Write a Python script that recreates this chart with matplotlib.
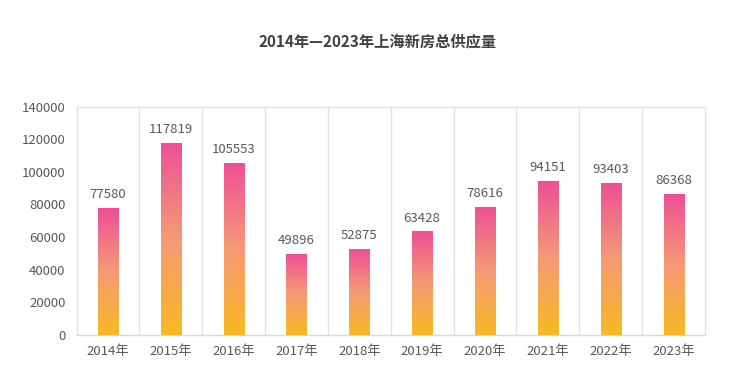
import matplotlib
matplotlib.use("Agg")
import matplotlib.pyplot as plt
import numpy as np
from matplotlib.colors import LinearSegmentedColormap

plt.rcParams['font.family'] = ['Noto Sans CJK SC', 'DejaVu Sans']

years = ["2014年", "2015年", "2016年", "2017年", "2018年", "2019年", "2020年", "2021年", "2022年", "2023年"]
supply = [77580, 117819, 105553, 49896, 52875, 63428, 78616, 94151, 93403, 86368]
title = "2014年—2023年上海新房总供应量"
yticks = [0, 20000, 40000, 60000, 80000, 100000, 120000, 140000]

fig = plt.figure(figsize=(7.4, 3.88), dpi=100)
ax = fig.add_axes([76.5/740, 1 - 335/388, (705 - 76.5)/740, (335 - 106.5)/388])

x = np.arange(len(years))
bars = ax.bar(x, supply, width=0.32, color='none', edgecolor='none', zorder=3)

cmap = LinearSegmentedColormap.from_list("g", ["#F9B922", "#F59A76", "#EE4F95"])
grad = np.linspace(0, 1, 256).reshape(-1, 1)
for b in bars:
    x0, y0 = b.get_x(), b.get_y()
    w, h = b.get_width(), b.get_height()
    im = ax.imshow(grad, cmap=cmap, aspect='auto', origin='lower',
                   extent=(x0, x0 + w, y0, y0 + h), zorder=3, interpolation='bicubic')
    im.set_clip_path(b)

for xi, v in zip(x, supply):
    ax.annotate(f"{v}", (xi, v), xytext=(0, 5), textcoords='offset points',
                ha='center', va='bottom', fontsize=9.5, color='#595959')

ax.set_xlim(-0.5, len(years) - 0.5)
ax.set_ylim(0, 140000)
ax.set_yticks(yticks)
ax.set_yticklabels([str(t) for t in yticks])
ax.set_xticks(x)
ax.set_xticklabels(years)
ax.tick_params(axis='both', length=0, labelsize=9.5, colors='#595959')
ax.tick_params(axis='x', pad=7)
ax.tick_params(axis='y', pad=8)

for b in np.arange(0.5, len(years) - 1, 1.0):
    ax.axvline(b, color='#E3E3E3', lw=1, zorder=1)
for s in ax.spines.values():
    s.set_color('#E3E3E3')
    s.set_linewidth(1)
ax.spines['bottom'].set_color('#D9D9D9')

fig.text(378/740, 1 - 41/388, title, ha='center', va='center', fontsize=11,
         fontweight='bold', color='#404040')

fig.savefig("out.png", dpi=100)
